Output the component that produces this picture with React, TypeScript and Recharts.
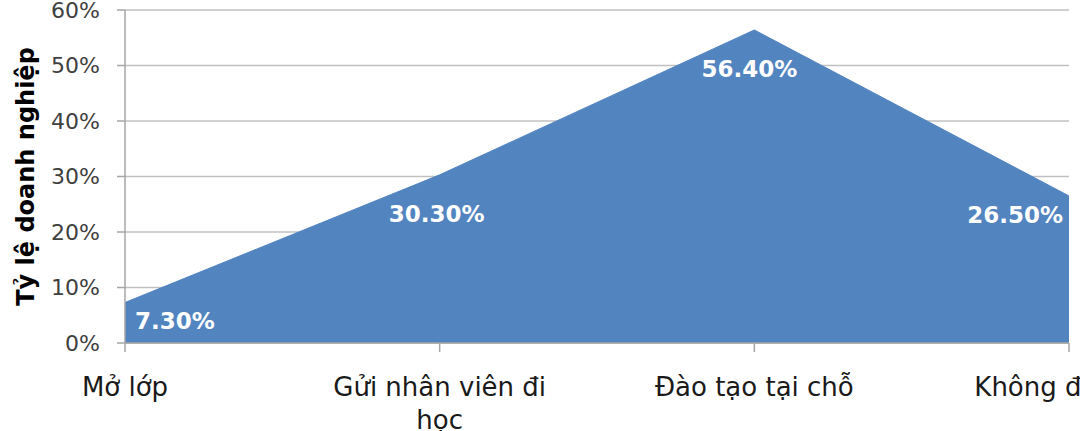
import { Area, AreaChart, CartesianGrid, Label, LabelList, XAxis, YAxis } from "recharts"

const categories = ["Mở lớp", "Gửi nhân viên đi học", "Đào tạo tại chỗ", "Không đào tạo"]
const shares = [7.3, 30.3, 56.4, 26.5]
const yTicks = [0, 10, 20, 30, 40, 50, 60]

const data = categories.map((name, i) => ({ name, value: shares[i] }))

const FONT = "'DejaVu Sans', sans-serif"
const TICK_SIZE = 26

// greedy word wrap measured with a canvas, so long category names break like Excel does
let ctx: CanvasRenderingContext2D | null = null
function wrapWords(text: string, maxWidth: number) {
  if (!ctx) ctx = document.createElement("canvas").getContext("2d")
  if (!ctx) return [text]
  ctx.font = `${TICK_SIZE}px ${FONT}`
  const lines: string[] = []
  let line = ""
  for (const word of text.split(" ")) {
    const next = line ? `${line} ${word}` : word
    if (line && ctx.measureText(next).width > maxWidth) {
      lines.push(line)
      line = word
    } else {
      line = next
    }
  }
  if (line) lines.push(line)
  return lines
}

function CategoryTick(props: any) {
  const { x, y, payload, index } = props
  // the last label runs off the picture, so it is never wrapped
  const lines = index === categories.length - 1 ? [payload.value] : wrapWords(payload.value, 240)
  return (
    <text x={x} y={y} textAnchor="middle" fill="#1a1a1a" fontSize={TICK_SIZE} fontFamily={FONT}>
      {lines.map((l, i) => (
        <tspan key={i} x={x} dy={i === 0 ? "0.71em" : 33}>
          {l}
        </tspan>
      ))}
    </text>
  )
}

// Excel-style placement: end points tucked inside, middle points below the peak
const labelDx = [10, -3, -5, -6]
const labelDy = [18, 39, 39, 19]
const labelAnchor = ["start", "middle", "middle", "end"] as const

function ValueLabel(props: any) {
  const { x, y, value, index } = props
  return (
    <text
      x={x + labelDx[index]}
      y={y + labelDy[index]}
      dy="0.36em"
      textAnchor={labelAnchor[index]}
      fill="#ffffff"
      fontSize={23}
      fontWeight="bold"
      fontFamily={FONT}
    >
      {Number(value).toFixed(2)}%
    </text>
  )
}

export default function App() {
  return (
    <div
      style={{
        position: "absolute",
        left: 0,
        top: 0,
        width: 1080,
        height: 431,
        overflow: "hidden",
        background: "#fff",
      }}
    >
      <AreaChart
        width={1200}
        height={431}
        data={data}
        margin={{ top: 10, right: 131, bottom: 0, left: 0 }}
      >
        <CartesianGrid vertical={false} stroke="#c0c0c0" strokeWidth={1.5} />
        <XAxis
          dataKey="name"
          interval={0}
          height={88}
          stroke="#a6a6a6"
          strokeWidth={1.5}
          tickSize={9}
          tickMargin={26}
          tick={<CategoryTick />}
        />
        <YAxis
          width={125}
          domain={[0, 60]}
          ticks={yTicks}
          interval={0}
          tickFormatter={(v: number) => `${v}%`}
          stroke="#a6a6a6"
          strokeWidth={1.5}
          tickSize={8}
          tickMargin={17}
          tick={{ fill: "#404040", fontSize: 22, fontFamily: FONT }}
        >
          <Label
            content={({ viewBox }: any) => {
              const cy = viewBox.y + viewBox.height / 2
              return (
                <text
                  x={26}
                  y={cy}
                  transform={`rotate(-90, 26, ${cy})`}
                  textAnchor="middle"
                  dominantBaseline="central"
                  fontSize={24}
                  fontWeight="bold"
                  fontFamily={FONT}
                  fill="#000"
                >
                  Tỷ lệ doanh nghiệp
                </text>
              )
            }}
          />
        </YAxis>
        <Area
          type="linear"
          dataKey="value"
          stroke="#5284c0"
          strokeWidth={1}
          fill="#5284c0"
          fillOpacity={1}
          isAnimationActive={false}
        >
          <LabelList dataKey="value" content={<ValueLabel />} />
        </Area>
      </AreaChart>
    </div>
  )
}
